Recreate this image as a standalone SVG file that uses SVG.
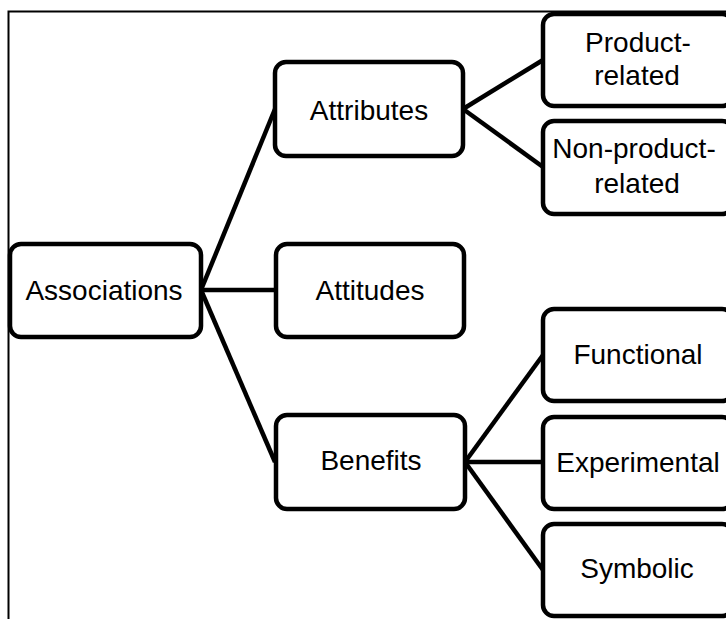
<svg xmlns="http://www.w3.org/2000/svg" width="726" height="619" viewBox="0 0 726 619">
<style>
.box{fill:#fff;stroke:#000;stroke-width:4.5}
.lbl{font-family:"Liberation Sans",Arial,sans-serif;font-size:28px;fill:#000;text-anchor:middle}
.con line{stroke:#000;stroke-width:4.5}
</style>
<rect x="0" y="0" width="726" height="619" fill="#fff"/>
<g id="frame"><path d="M8.5 619 V11.5 H740" fill="none" stroke="#000" stroke-width="2"/></g>
<g id="connectors" class="con">
<line x1="201" y1="290" x2="275" y2="109"/>
<line x1="201" y1="290" x2="275" y2="290"/>
<line x1="201" y1="290" x2="275" y2="462"/>
<line x1="463" y1="109" x2="543" y2="60"/>
<line x1="463" y1="109" x2="543" y2="167"/>
<line x1="465" y1="462" x2="543" y2="355"/>
<line x1="465" y1="462" x2="543" y2="462"/>
<line x1="465" y1="462" x2="543" y2="570"/>
</g>
<g id="associations"><rect class="box" x="10" y="244" width="191" height="93" rx="11"/><text class="lbl" x="104" y="300">Associations</text></g>
<g id="attributes"><rect class="box" x="275" y="62" width="188" height="94" rx="11"/><text class="lbl" x="369" y="120">Attributes</text></g>
<g id="attitudes"><rect class="box" x="276" y="244" width="188" height="93" rx="11"/><text class="lbl" x="370" y="300">Attitudes</text></g>
<g id="benefits"><rect class="box" x="276" y="415" width="189" height="94" rx="11"/><text class="lbl" x="371" y="470">Benefits</text></g>
<g id="product-related"><rect class="box" x="543" y="14" width="190" height="92" rx="11"/><text class="lbl" x="638" y="52">Product-</text><text class="lbl" x="637" y="85">related</text></g>
<g id="non-product-related"><rect class="box" x="543" y="121" width="190" height="93" rx="11"/><text class="lbl" x="634" y="158">Non-product-</text><text class="lbl" x="637" y="193">related</text></g>
<g id="functional"><rect class="box" x="543" y="309" width="190" height="92" rx="11"/><text class="lbl" x="638" y="364">Functional</text></g>
<g id="experimental"><rect class="box" x="543" y="417" width="190" height="92" rx="11"/><text class="lbl" x="638" y="472">Experimental</text></g>
<g id="symbolic"><rect class="box" x="543" y="524" width="190" height="92" rx="11"/><text class="lbl" x="637" y="578">Symbolic</text></g>
</svg>
